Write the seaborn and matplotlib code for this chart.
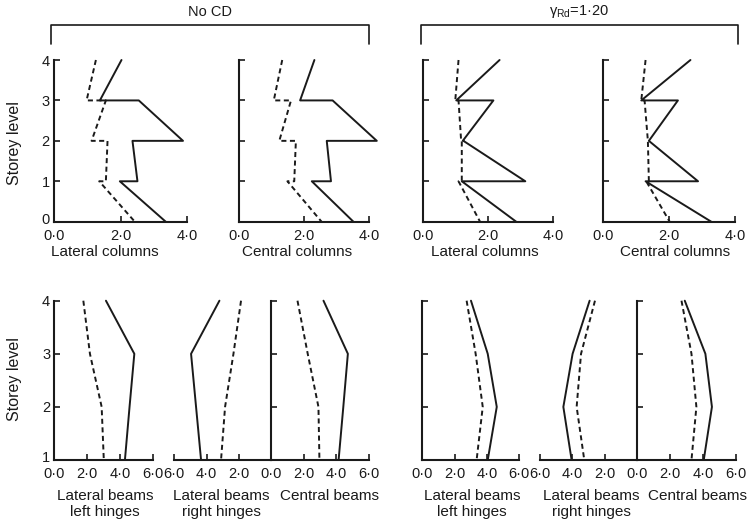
import seaborn as sns
import matplotlib.pyplot as plt
import matplotlib.transforms as mtransforms
from matplotlib.lines import Line2D

# storey positions of the plotted points (columns: top and bottom of each storey)
storey_cols = [4, 3, 3, 2, 2, 1, 1, 0]
storey_beams = [4, 3, 2, 1]

# No CD - columns
nocd_lat_col_solid = [2.03, 1.38, 2.55, 3.88, 2.36, 2.51, 1.98, 3.36]
nocd_lat_col_dash = [1.26, 0.98, 1.56, 1.13, 1.61, 1.56, 1.36, 2.43]
nocd_cen_col_solid = [2.32, 1.88, 2.88, 4.24, 2.70, 2.83, 2.24, 3.52]
nocd_cen_col_dash = [1.33, 1.07, 1.60, 1.24, 1.75, 1.70, 1.49, 2.54]

# gamma_Rd = 1.20 - columns
rd_lat_col_solid = [2.36, 1.03, 2.17, 1.23, 1.25, 3.15, 1.20, 2.87]
rd_lat_col_dash = [1.10, 1.00, 1.10, 1.18, 1.20, 1.20, 1.10, 1.76]
rd_cen_col_solid = [2.65, 1.16, 2.27, 1.39, 1.39, 2.88, 1.29, 3.28]
rd_cen_col_dash = [1.29, 1.16, 1.26, 1.36, 1.36, 1.39, 1.31, 2.02]

# No CD - beams
nocd_left_solid = [3.13, 4.85, 4.56, 4.28]
nocd_left_dash = [1.76, 2.16, 2.87, 3.00]
nocd_right_solid = [3.20, 4.96, 4.65, 4.34]
nocd_right_dash = [1.86, 2.33, 2.85, 3.10]
nocd_cen_solid = [3.23, 4.73, 4.45, 4.16]
nocd_cen_dash = [1.63, 2.26, 2.92, 2.98]

# gamma_Rd = 1.20 - beams
rd_left_solid = [3.02, 4.06, 4.62, 4.06]
rd_left_dash = [2.75, 3.31, 3.75, 3.37]
rd_right_solid = [2.94, 3.99, 4.56, 4.05]
rd_right_dash = [2.61, 3.47, 3.74, 3.27]
rd_cen_solid = [2.90, 4.16, 4.56, 4.06]
rd_cen_dash = [2.70, 3.31, 3.61, 3.31]

col_ticks = [0, 2, 4]
col_ticklabels = ["0·0", "2·0", "4·0"]
beam_ticks = [0, 2, 4, 6]
beam_ticklabels = ["0·0", "2·0", "4·0", "6·0"]

sns.set_style("ticks")
plt.rcParams["font.family"] = ["Liberation Sans", "DejaVu Sans"]

INK = "#1a1a1a"
W, H = 752, 525
fig = plt.figure(figsize=(W / 100, H / 100), dpi=100)


def box(x0, x1, y_top, y_bot):
    return [x0 / W, 1 - y_bot / H, (x1 - x0) / W, (y_bot - y_top) / H]


def draw(ax, solid, dash, storeys):
    sns.lineplot(x=solid, y=storeys, sort=False, estimator=None, color=INK,
                 lw=1.4, ax=ax, clip_on=False)
    sns.lineplot(x=dash, y=storeys, sort=False, estimator=None, color=INK,
                 lw=1.4, linestyle=(0, (2.6, 1.8)), ax=ax, clip_on=False)


def style(ax, left=True):
    sns.despine(ax=ax, left=not left)
    for s in ax.spines.values():
        s.set_linewidth(1.5)
        s.set_color(INK)
    ax.tick_params(direction="in", length=4, width=1.2, colors=INK,
                   labelsize=10.5, left=left, labelleft=False)
    ax.tick_params(axis="x", pad=5)
    ax.tick_params(axis="y", pad=3)
    ax.set_facecolor("none")


def lift_first_ylabel(ax):
    # the lowest storey label sits a little above its tick, clear of the x labels
    lab = ax.get_yticklabels()[0]
    lab.set_transform(lab.get_transform() +
                      mtransforms.ScaledTranslation(0, 3 / 100, fig.dpi_scale_trans))


# top row: columns
top = [
    (box(54, 187, 60, 221.7), nocd_lat_col_solid, nocd_lat_col_dash),
    (box(239, 369, 60, 221.7), nocd_cen_col_solid, nocd_cen_col_dash),
    (box(422.7, 553, 60, 221.7), rd_lat_col_solid, rd_lat_col_dash),
    (box(603, 735, 60, 221.7), rd_cen_col_solid, rd_cen_col_dash),
]
for i, (pos, solid, dash) in enumerate(top):
    ax = fig.add_axes(pos)
    draw(ax, solid, dash, storey_cols)
    ax.set_xlim(0, 4)
    ax.set_ylim(0, 4)
    ax.set_xticks(col_ticks, col_ticklabels)
    ax.set_yticks([0, 1, 2, 3, 4], ["0", "1", "2", "3", "4"])
    style(ax)
    if i == 0:
        ax.tick_params(labelleft=True)
        lift_first_ylabel(ax)

# bottom row: beams (lateral right hinges drawn on a reversed axis)
bottom = [
    (box(54.3, 153.3, 300.7, 460), nocd_left_solid, nocd_left_dash, "left"),
    (box(174.3, 271, 300.7, 460), nocd_right_solid, nocd_right_dash, "right"),
    (box(271, 368.5, 300.7, 460), nocd_cen_solid, nocd_cen_dash, "cen"),
    (box(422.3, 519, 300.7, 460), rd_left_solid, rd_left_dash, "left"),
    (box(540, 637.3, 300.7, 460), rd_right_solid, rd_right_dash, "right"),
    (box(637.3, 735.5, 300.7, 460), rd_cen_solid, rd_cen_dash, "cen"),
]
for i, (pos, solid, dash, kind) in enumerate(bottom):
    ax = fig.add_axes(pos)
    draw(ax, solid, dash, storey_beams)
    ax.set_ylim(1, 4)
    ax.set_yticks([1, 2, 3, 4], ["1", "2", "3", "4"])
    if kind == "right":
        ax.set_xlim(6, 0)
        ax.set_xticks(beam_ticks[:0:-1], beam_ticklabels[:0:-1])
        style(ax, left=False)
    else:
        ax.set_xlim(0, 6)
        ax.set_xticks(beam_ticks, beam_ticklabels)
        style(ax)
    if i == 0:
        ax.tick_params(labelleft=True)
        lift_first_ylabel(ax)


def ftext(x, y, s, **kw):
    fig.text(x / W, 1 - y / H, s, ha="center", va="center", color=INK, **kw)


for x, s in [(105, "Lateral columns"), (297, "Central columns"),
             (485, "Lateral columns"), (675, "Central columns")]:
    ftext(x, 252, s, fontsize=11)

for x, s in [(105, "Lateral beams\nleft hinges"), (221, "Lateral beams\nright hinges"),
             (472, "Lateral beams\nleft hinges"), (591, "Lateral beams\nright hinges")]:
    ftext(x, 504, s, fontsize=11, linespacing=1.2)
for x in [329, 698]:
    ftext(x, 496, "Central beams", fontsize=11)

ftext(15, 143, "Storey level", fontsize=11.5, rotation=90)
ftext(15, 379, "Storey level", fontsize=11.5, rotation=90)

# group brackets
for x0, x1, label in [(51.3, 369, "No CD"), (420.7, 738.3, r"$\mathregular{γ_{Rd}}$=1·20")]:
    xs = [x0 / W, x0 / W, x1 / W, x1 / W]
    ys = [1 - 44 / H, 1 - 25 / H, 1 - 25 / H, 1 - 44 / H]
    fig.add_artist(Line2D(xs, ys, color=INK, lw=1.2, transform=fig.transFigure))
    ftext((x0 + x1) / 2, 12, label, fontsize=10.5)

fig.savefig("out.png", dpi=100)
